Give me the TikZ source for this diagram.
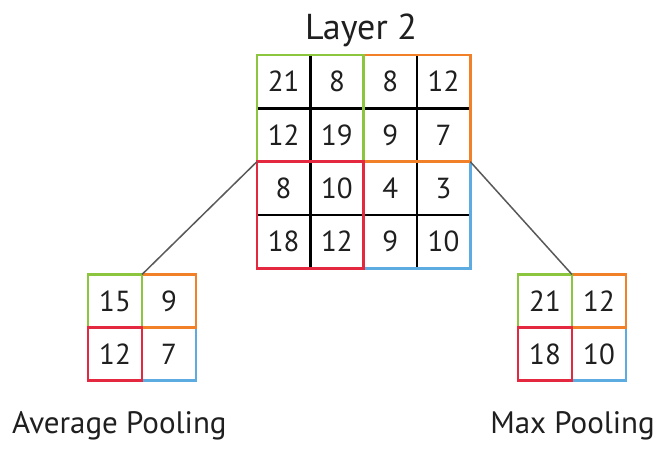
\documentclass[tikz,border=0pt]{standalone}
\usepackage{fontspec}
\setmainfont{PT Sans}
\begin{document}
\begin{tikzpicture}[x=1pt,y=-1pt,
  cell/.style={draw=black,line width=2.6pt,minimum width=53.3pt,minimum height=53.3pt,
    inner sep=0pt,outer sep=0pt,font=\fontsize{29}{30}\selectfont,text=black!88},
  scell/.style={minimum width=54pt,minimum height=53pt,inner sep=0pt,outer sep=0pt,
    font=\fontsize{29}{30}\selectfont,text=black!88},
  pool/.style={line width=2.6pt},
  link/.style={draw=black!65,line width=1.5pt},
  caption/.style={font=\fontsize{31}{32}\selectfont,text=black!88,inner sep=0pt}]
\definecolor{pgreen}{RGB}{140,198,63}
\definecolor{porange}{RGB}{242,128,40}
\definecolor{pred}{RGB}{228,40,64}
\definecolor{pblue}{RGB}{92,172,226}
\useasboundingbox (0,0) rectangle (657,452);
\fill[white] (0,0) rectangle (657,452);

% title
\node[font=\fontsize{36}{38}\selectfont,text=black!88,inner sep=0pt] (title) at (361,30) {Layer 2};

% 4x4 feature map
\foreach \r/\vals in {1/{21,8,8,12},2/{12,19,9,7},3/{8,10,4,3},4/{18,12,9,10}}{
  \foreach \v [count=\c] in \vals {
    \node[cell] (c\r\c) at ({257+53.3*(\c-0.5)},{55+53.3*(\r-0.5)}) {\v};
  }
}
% pooling windows
\draw[pool,pblue]   (c33.north west) rectangle (c44.south east);
\draw[pool,porange] (c13.north west) rectangle (c24.south east);
\draw[pool,pgreen]  (c11.north west) rectangle (c22.south east);
\draw[pool,pred]    (c31.north west) rectangle (c42.south east);

% average pooling result
\node[scell] (a11) at (115,301) {15};
\node[scell] (a12) at (169,301) {9};
\node[scell] (a21) at (115,354) {12};
\node[scell] (a22) at (169,354) {7};
\draw[pool,pblue]   (a22.north west) rectangle (a22.south east);
\draw[pool,porange] (a12.north west) rectangle (a12.south east);
\draw[pool,pgreen]  (a11.north west) rectangle (a11.south east);
\draw[pool,pred]    (a21.north west) rectangle (a21.south east);

% max pooling result
\node[scell] (m11) at (545,301) {21};
\node[scell] (m12) at (599,301) {12};
\node[scell] (m21) at (545,354) {18};
\node[scell] (m22) at (599,354) {10};
\draw[pool,pblue]   (m22.north west) rectangle (m22.south east);
\draw[pool,porange] (m12.north west) rectangle (m12.south east);
\draw[pool,pgreen]  (m11.north west) rectangle (m11.south east);
\draw[pool,pred]    (m21.north west) rectangle (m21.south east);

% connectors
\draw[link] (c31.north west) -- (a11.north east);
\draw[link] (c34.north east) -- (m11.north east);

% captions
\node[caption,anchor=base west] (avg) at (12,433) {Average Pooling};
\node[caption,anchor=base east] (max) at (655,433) {Max Pooling};
\end{tikzpicture}
\end{document}
